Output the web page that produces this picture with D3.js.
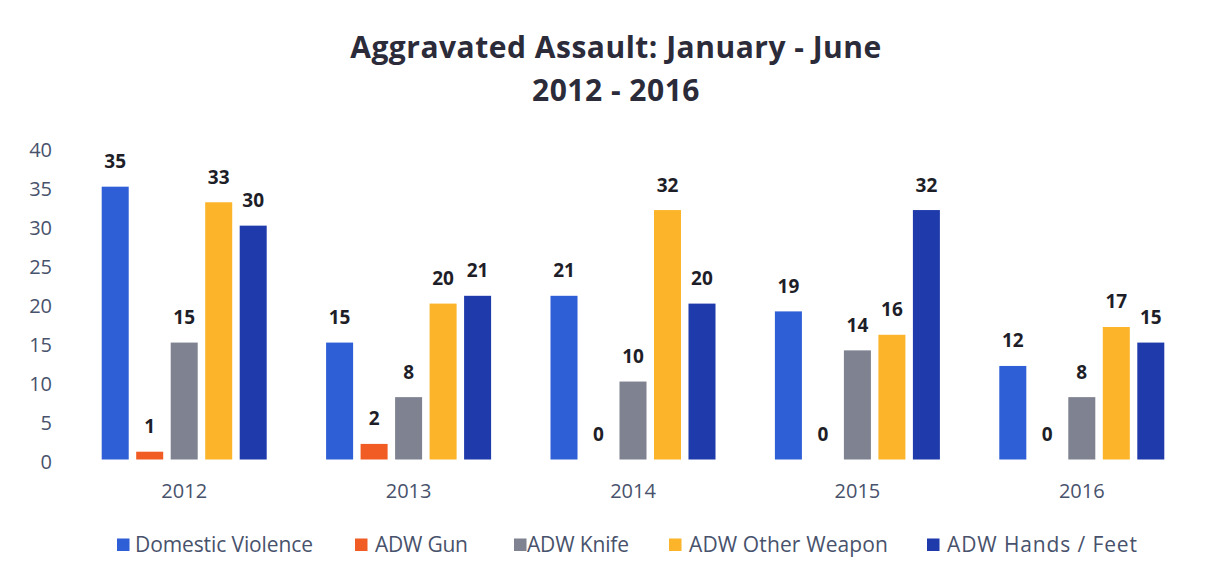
<!DOCTYPE html>
<html><head><meta charset="utf-8">
<script src="https://cdn.jsdelivr.net/npm/d3@7"></script>
<style>body{margin:0;background:#fff;}svg{display:block;}text{font-family:"Open Sans",sans-serif;}</style>
</head><body>
<svg id="c" width="1211" height="578"></svg>
<script>
const years = ["2012","2013","2014","2015","2016"];
const seriesNames = ["Domestic Violence","ADW Gun","ADW Knife","ADW Other Weapon","ADW Hands / Feet"];
const domesticViolence = [35,15,21,19,12];
const adwGun = [1,2,0,0,0];
const adwKnife = [15,8,10,14,8];
const adwOther = [33,20,32,16,17];
const adwHands = [30,21,20,32,15];
const yTicks = [0,5,10,15,20,25,30,35,40];
const colors = ["#2e5fd6","#f05c24","#7f8290","#fcb52a","#1f3bab"];

const series = [domesticViolence, adwGun, adwKnife, adwOther, adwHands];
const svg = d3.select("#c");
const M = {l:72, r:1194, t:147.7, b:459.5};
const tickColor = "#48526c";

const x0 = d3.scaleBand().domain(years).range([M.l, M.r]).paddingInner(0).paddingOuter(0);
const groupW = 165;
const x1 = d3.scaleBand().domain(seriesNames)
  .range([(x0.bandwidth()-groupW)/2, (x0.bandwidth()+groupW)/2]).paddingInner(0.217).paddingOuter(0);
const y = d3.scaleLinear().domain([0,40]).range([M.b, M.t]);

// title
svg.append("text").attr("x",616).attr("y",58).attr("text-anchor","middle")
  .attr("font-size",30).attr("font-weight","bold").attr("letter-spacing","0.5px").attr("fill","#2b2b3a").text("Aggravated Assault: January - June");
svg.append("text").attr("x",616).attr("y",101).attr("text-anchor","middle")
  .attr("font-size",30).attr("font-weight","bold").attr("letter-spacing","0.5px").attr("fill","#2b2b3a").text("2012 - 2016");

// y axis
const yAxis = d3.axisLeft(y).tickValues(yTicks).tickSize(0).tickPadding(0);
const gy = svg.append("g").attr("transform",`translate(52,0)`).call(yAxis);
gy.select(".domain").remove();
gy.selectAll("text").attr("font-size",20).attr("fill",tickColor).attr("font-family","Open Sans").attr("text-anchor","end").attr("dy","0.45em");

// x axis
const xAxis = d3.axisBottom(x0).tickSize(0).tickPadding(0);
const gx = svg.append("g").attr("transform",`translate(0,498)`).call(xAxis);
gx.select(".domain").remove();
gx.selectAll("text").attr("font-size",20).attr("fill",tickColor).attr("font-family","Open Sans").attr("y",0).attr("dy","0");

// bars
years.forEach((yr,i)=>{
  const g = svg.append("g").attr("transform",`translate(${x0(yr)},0)`);
  seriesNames.forEach((s,j)=>{
    const v = series[j][i];
    if (v>0) g.append("rect").attr("x",x1(s)).attr("y",y(v)).attr("width",x1.bandwidth()).attr("height",y(0)-y(v)).attr("fill",colors[j]);
    g.append("text").attr("x",x1(s)+x1.bandwidth()/2).attr("y",y(v)-18.5)
      .attr("text-anchor","middle").attr("font-size",19).attr("font-weight","bold").attr("fill","#1e1e28").text(v);
  });
});

// legend
const legSq = [117,355,514,669,927];
const legTx = [135,375,527,689,947];
const legW = [178,93,102,199,190];
const leg = svg.append("g");
seriesNames.forEach((s,j)=>{
  leg.append("rect").attr("x",legSq[j]).attr("y",538.5).attr("width",12.5).attr("height",12.5).attr("fill",colors[j]);
  leg.append("text").attr("x",legTx[j]).attr("y",552).attr("font-size",21).attr("fill",tickColor)
    .attr("textLength",legW[j]).attr("lengthAdjust","spacing").text(s);
});
</script>
</body></html>
